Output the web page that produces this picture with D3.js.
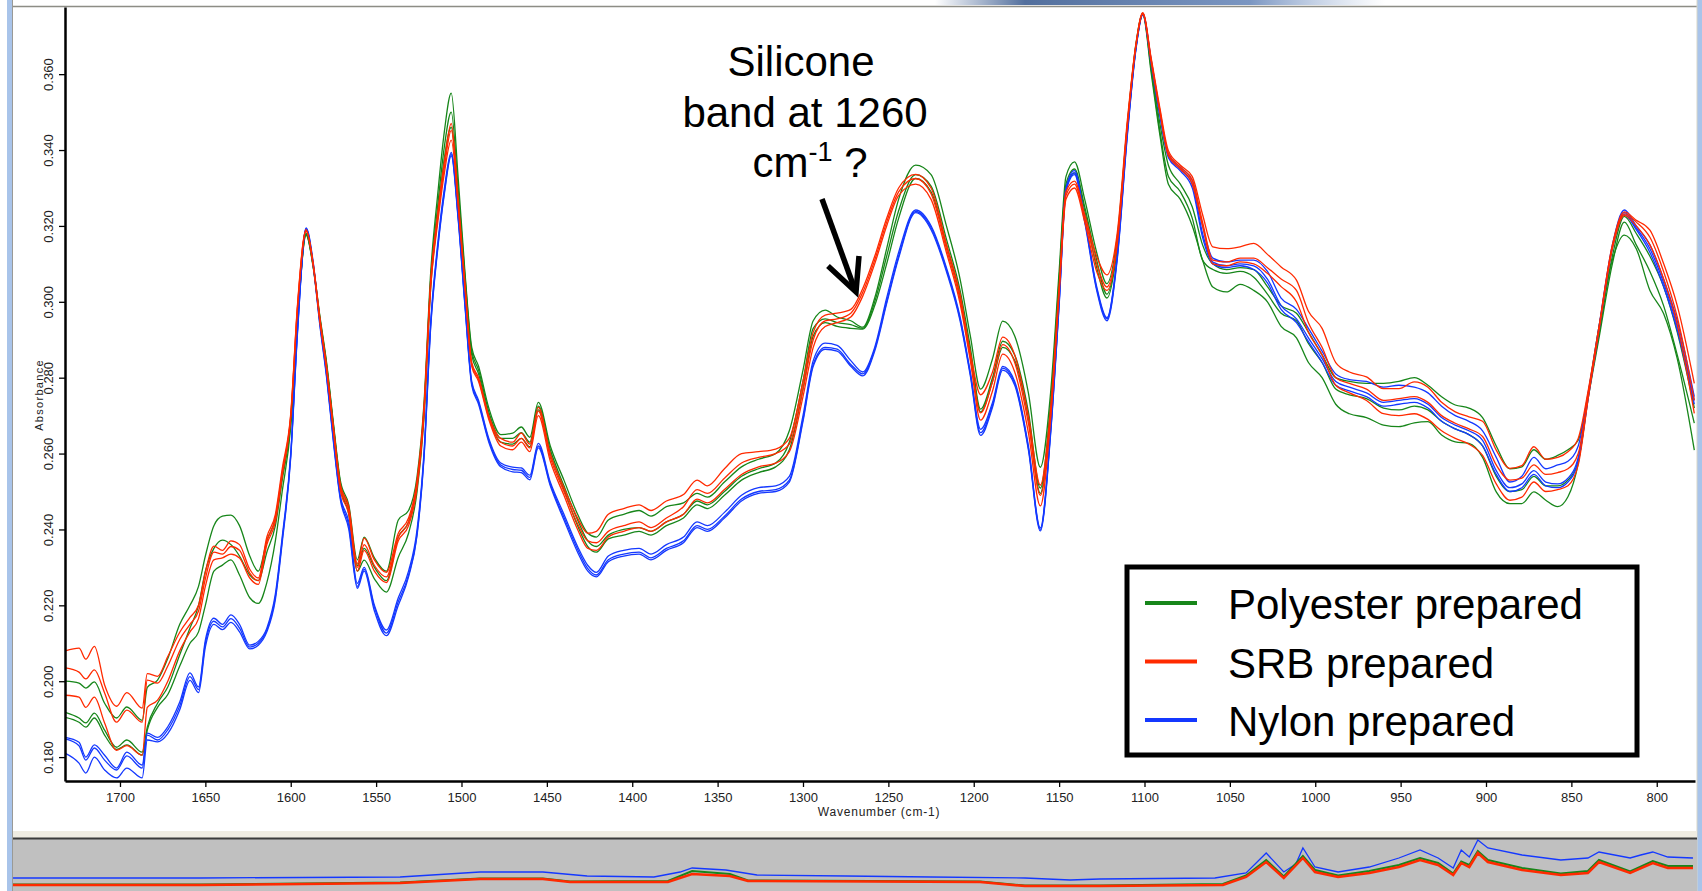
<!DOCTYPE html>
<html>
<head>
<meta charset="utf-8">
<script src="https://cdn.jsdelivr.net/npm/d3@7"></script>
<style>
  html, body { margin: 0; padding: 0; background: #fff; }
  svg { display: block; font-family: "Liberation Sans", Arial, sans-serif; }
</style>
</head>
<body>
<svg id="chart"></svg>
<script>
// wavenumber grid (cm-1), shared by every trace
const wavenumbers = [
  1732,1724,1720,1715,1709,1702,1696,1687,1684,1678,
  1672,1665,1659,1654,1650,1645,1640,1635,1630,1624,
  1619,1614,1609,1605,1600,1596,1591,1587,1583,1579,
  1575,1571,1566,1561,1557,1551,1544,1537,1531,1526,
  1522,1518,1514,1510,1506,1502,1498,1494,1490,1484,
  1477,1470,1465,1460,1455,1448,1440,1432,1426,1421,
  1414,1405,1396,1389,1380,1370,1362,1356,1346,1336,
  1326,1316,1308,1300,1294,1287,1280,1272,1265,1258,
  1251,1244,1234,1225,1216,1208,1202,1196,1189,1183,
  1176,1168,1161,1155,1150,1146,1141,1135,1128,1122,
  1116,1110,1105,1101,1096,1091,1086,1079,1072,1066,
  1060,1052,1044,1036,1028,1020,1011,1004,996,988,
  980,970,960,951,942,934,926,918,910,902,
  894,886,879,872,865,858,852,846,840,834,
  826,819,812,804,796,788,778
];

const polyester1 = [
  .2000,.1995,.1982,.1998,.1942,.1903,.1932,.1897,.1984,.2003,
  .2060,.2150,.2200,.2250,.2330,.2410,.2435,.2438,.2410,.2330,
  .2290,.2370,.2430,.2540,.2690,.2960,.3180,.3100,.2965,.2840,
  .2680,.2530,.2465,.2320,.2380,.2325,.2290,.2425,.2450,.2540,
  .2730,.3080,.3280,.3450,.3550,.3330,.3080,.2880,.2830,.2720,
  .2650,.2654,.2670,.2643,.2735,.2620,.2530,.2440,.2390,.2380,
  .2425,.2440,.2450,.2435,.2460,.2470,.2495,.2485,.2525,.2565,
  .2585,.2600,.2660,.2820,.2950,.2978,.2960,.2950,.2933,.3010,
  .3140,.3270,.3360,.3335,.3200,.3060,.2910,.2770,.2850,.2949,
  .2910,.2760,.2564,.2760,.3080,.3330,.3369,.3270,.3130,.3048,
  .3170,.3470,.3680,.3760,.3620,.3470,.3360,.3310,.3250,.3150,
  .3100,.3085,.3090,.3085,.3040,.2990,.2970,.2920,.2860,.2800,
  .2790,.2785,.2785,.2790,.2800,.2780,.2750,.2728,.2720,.2695,
  .2620,.2560,.2565,.2610,.2585,.2595,.2610,.2635,.2760,.2910,
  .3120,.3225,.3180,.3120,.3040,.2920,.2720
];
const polyester2 = [
  .1918,.1903,.1890,.1916,.1871,.1826,.1845,.1813,.1879,.1942,
  .1985,.2070,.2140,.2200,.2290,.2350,.2372,.2360,.2330,.2280,
  .2265,.2340,.2410,.2530,.2680,.2955,.3178,.3098,.2960,.2835,
  .2675,.2525,.2455,.2305,.2350,.2300,.2265,.2380,.2420,.2520,
  .2710,.3060,.3250,.3410,.3500,.3300,.3070,.2870,.2820,.2710,
  .2640,.2640,.2655,.2630,.2725,.2610,.2515,.2425,.2370,.2355,
  .2385,.2400,.2405,.2395,.2420,.2440,.2475,.2465,.2500,.2540,
  .2560,.2575,.2630,.2790,.2930,.2955,.2945,.2940,.2930,.3000,
  .3120,.3240,.3335,.3305,.3165,.3030,.2880,.2717,.2800,.2896,
  .2860,.2710,.2509,.2730,.3060,.3310,.3350,.3250,.3110,.3020,
  .3150,.3460,.3675,.3758,.3610,.3450,.3330,.3290,.3220,.3110,
  .3085,.3075,.3080,.3065,.3020,.2970,.2950,.2890,.2840,.2770,
  .2755,.2745,.2720,.2715,.2725,.2715,.2685,.2665,.2650,.2620,
  .2540,.2500,.2505,.2540,.2515,.2515,.2530,.2580,.2750,.2900,
  .3100,.3210,.3150,.3080,.2990,.2860,.2680
];
const polyester3 = [
  .1905,.1892,.1879,.1903,.1858,.1820,.1832,.1805,.1871,.1931,
  .1965,.2040,.2100,.2130,.2200,.2290,.2306,.2320,.2280,.2220,
  .2205,.2260,.2370,.2500,.2670,.2950,.3175,.3095,.2955,.2830,
  .2670,.2515,.2440,.2290,.2319,.2270,.2235,.2327,.2390,.2500,
  .2690,.3040,.3220,.3380,.3460,.3280,.3060,.2860,.2810,.2700,
  .2630,.2625,.2640,.2618,.2715,.2600,.2505,.2410,.2355,.2340,
  .2375,.2385,.2395,.2385,.2410,.2430,.2465,.2455,.2490,.2530,
  .2550,.2565,.2610,.2770,.2910,.2945,.2935,.2930,.2928,.2990,
  .3100,.3220,.3325,.3290,.3150,.3015,.2865,.2710,.2790,.2880,
  .2845,.2695,.2495,.2720,.3050,.3300,.3340,.3240,.3090,.3010,
  .3140,.3455,.3670,.3756,.3600,.3440,.3310,.3270,.3200,.3110,
  .3039,.3026,.3046,.3030,.3000,.2935,.2905,.2840,.2800,.2730,
  .2705,.2695,.2675,.2671,.2681,.2684,.2649,.2631,.2627,.2590,
  .2499,.2468,.2468,.2499,.2477,.2460,.2486,.2574,.2760,.2930,
  .3110,.3176,.3140,.3030,.2969,.2850,.2609
];

const srb1 = [
  .2080,.2087,.2058,.2092,.1990,.1934,.1970,.1929,.2020,.2013,
  .2065,.2129,.2168,.2200,.2287,.2356,.2345,.2370,.2360,.2295,
  .2272,.2380,.2440,.2560,.2705,.2995,.3190,.3105,.2960,.2830,
  .2670,.2520,.2460,.2310,.2377,.2320,.2287,.2390,.2430,.2530,
  .2720,.3060,.3230,.3370,.3470,.3276,.3050,.2840,.2800,.2700,
  .2640,.2630,.2654,.2625,.2722,.2600,.2510,.2430,.2390,.2395,
  .2440,.2455,.2465,.2450,.2475,.2492,.2530,.2515,.2560,.2600,
  .2605,.2612,.2640,.2790,.2920,.2965,.2970,.2980,.3035,.3120,
  .3220,.3300,.3336,.3300,.3152,.3020,.2867,.2755,.2815,.2907,
  .2860,.2700,.2517,.2720,.3040,.3290,.3318,.3230,.3120,.3071,
  .3180,.3480,.3680,.3762,.3640,.3511,.3398,.3360,.3330,.3230,
  .3145,.3140,.3145,.3154,.3125,.3092,.3057,.2975,.2930,.2840,
  .2815,.2802,.2771,.2771,.2789,.2775,.2735,.2710,.2697,.2685,
  .2609,.2561,.2568,.2618,.2585,.2590,.2605,.2640,.2770,.2930,
  .3150,.3237,.3215,.3189,.3101,.2990,.2785
];
const srb2 = [
  .2035,.2024,.2006,.2030,.1969,.1892,.1924,.1892,.2003,.1995,
  .2040,.2110,.2150,.2185,.2270,.2340,.2335,.2355,.2345,.2285,
  .2265,.2370,.2430,.2550,.2700,.2990,.3188,.3103,.2955,.2825,
  .2665,.2515,.2450,.2300,.2360,.2305,.2275,.2380,.2420,.2520,
  .2710,.3050,.3220,.3355,.3452,.3265,.3045,.2835,.2795,.2695,
  .2630,.2620,.2640,.2615,.2712,.2590,.2500,.2415,.2370,.2365,
  .2395,.2410,.2420,.2405,.2430,.2460,.2505,.2495,.2535,.2575,
  .2590,.2600,.2625,.2770,.2900,.2950,.2955,.2970,.3025,.3110,
  .3210,.3290,.3325,.3285,.3140,.3005,.2855,.2707,.2790,.2887,
  .2840,.2680,.2490,.2700,.3030,.3280,.3310,.3220,.3100,.3039,
  .3160,.3470,.3677,.3760,.3635,.3505,.3390,.3355,.3320,.3210,
  .3110,.3105,.3115,.3115,.3090,.3060,.3030,.2945,.2880,.2800,
  .2785,.2770,.2740,.2745,.2750,.2735,.2700,.2680,.2665,.2645,
  .2570,.2530,.2535,.2570,.2545,.2550,.2560,.2600,.2760,.2925,
  .3145,.3232,.3210,.3170,.3080,.2960,.2740
];
const srb3 = [
  .1963,.1958,.1931,.1958,.1890,.1818,.1830,.1805,.1931,.1950,
  .2000,.2080,.2130,.2165,.2250,.2320,.2325,.2335,.2325,.2272,
  .2255,.2360,.2420,.2540,.2695,.2985,.3186,.3100,.2950,.2820,
  .2660,.2505,.2440,.2290,.2345,.2290,.2260,.2370,.2410,.2510,
  .2700,.3040,.3205,.3340,.3426,.3255,.3040,.2830,.2790,.2690,
  .2620,.2610,.2630,.2605,.2700,.2580,.2490,.2400,.2350,.2345,
  .2380,.2395,.2405,.2395,.2420,.2440,.2480,.2470,.2505,.2545,
  .2565,.2575,.2605,.2750,.2880,.2935,.2945,.2960,.3015,.3100,
  .3200,.3280,.3310,.3270,.3130,.2995,.2845,.2688,.2765,.2862,
  .2815,.2655,.2462,.2690,.3020,.3270,.3300,.3210,.3080,.3030,
  .3150,.3465,.3675,.3758,.3630,.3500,.3385,.3350,.3310,.3200,
  .3100,.3095,.3105,.3100,.3075,.3040,.3000,.2920,.2860,.2780,
  .2760,.2740,.2705,.2700,.2705,.2690,.2660,.2640,.2625,.2595,
  .2520,.2477,.2485,.2525,.2500,.2505,.2515,.2570,.2750,.2920,
  .3140,.3228,.3200,.3150,.3060,.2940,.2706
];

const nylon1 = [
  .1852,.1839,.1800,.1832,.1805,.1771,.1813,.1779,.1863,.1852,
  .1880,.1945,.2022,.1985,.2108,.2166,.2150,.2175,.2150,.2095,
  .2105,.2140,.2230,.2380,.2600,.2930,.3195,.3110,.2950,.2810,
  .2640,.2490,.2420,.2258,.2300,.2200,.2135,.2220,.2290,.2400,
  .2600,.2950,.3150,.3300,.3394,.3230,.3000,.2790,.2740,.2640,
  .2575,.2564,.2562,.2543,.2627,.2525,.2440,.2355,.2305,.2287,
  .2330,.2345,.2350,.2335,.2360,.2380,.2420,.2410,.2445,.2490,
  .2510,.2515,.2540,.2700,.2845,.2891,.2885,.2845,.2815,.2880,
  .3010,.3130,.3242,.3200,.3090,.2960,.2815,.2664,.2735,.2830,
  .2790,.2620,.2404,.2660,.3000,.3300,.3346,.3220,.3040,.2958,
  .3120,.3450,.3670,.3760,.3635,.3500,.3390,.3355,.3320,.3200,
  .3115,.3105,.3110,.3110,.3080,.3010,.2980,.2930,.2870,.2810,
  .2795,.2790,.2775,.2780,.2775,.2760,.2725,.2700,.2685,.2660,
  .2590,.2525,.2540,.2590,.2560,.2570,.2580,.2620,.2765,.2930,
  .3150,.3242,.3200,.3150,.3060,.2950,.2750
];
const nylon2 = [
  .1848,.1830,.1792,.1824,.1792,.1766,.1803,.1771,.1858,.1845,
  .1872,.1935,.2012,.1978,.2100,.2158,.2143,.2165,.2140,.2090,
  .2100,.2135,.2222,.2372,.2595,.2925,.3193,.3105,.2945,.2805,
  .2635,.2485,.2410,.2250,.2295,.2195,.2127,.2210,.2280,.2390,
  .2590,.2940,.3140,.3290,.3390,.3225,.2995,.2785,.2735,.2635,
  .2570,.2558,.2556,.2537,.2620,.2520,.2432,.2348,.2297,.2280,
  .2320,.2335,.2340,.2325,.2350,.2370,.2410,.2400,.2435,.2480,
  .2500,.2505,.2530,.2690,.2835,.2880,.2875,.2835,.2810,.2875,
  .3000,.3120,.3238,.3195,.3085,.2955,.2810,.2655,.2728,.2825,
  .2785,.2615,.2400,.2655,.2995,.3295,.3340,.3215,.3035,.2955,
  .3115,.3445,.3668,.3758,.3630,.3495,.3385,.3350,.3310,.3180,
  .3105,.3095,.3100,.3095,.3060,.2990,.2955,.2905,.2850,.2790,
  .2775,.2760,.2735,.2740,.2745,.2730,.2695,.2675,.2660,.2635,
  .2555,.2510,.2520,.2555,.2525,.2520,.2535,.2590,.2755,.2925,
  .3145,.3235,.3195,.3140,.3050,.2935,.2740
];
const nylon3 = [
  .1810,.1784,.1758,.1800,.1766,.1745,.1771,.1745,.1845,.1840,
  .1862,.1925,.2002,.1970,.2090,.2150,.2136,.2155,.2130,.2085,
  .2095,.2130,.2215,.2365,.2590,.2920,.3192,.3100,.2940,.2800,
  .2630,.2480,.2400,.2245,.2290,.2185,.2120,.2200,.2275,.2385,
  .2585,.2935,.3135,.3285,.3385,.3220,.2990,.2780,.2730,.2630,
  .2565,.2552,.2550,.2531,.2615,.2515,.2425,.2340,.2290,.2275,
  .2315,.2330,.2335,.2320,.2345,.2365,.2405,.2395,.2430,.2475,
  .2495,.2500,.2525,.2685,.2830,.2875,.2870,.2830,.2805,.2870,
  .2995,.3115,.3235,.3190,.3080,.2950,.2805,.2648,.2722,.2820,
  .2780,.2610,.2396,.2650,.2990,.3290,.3335,.3210,.3030,.2950,
  .3110,.3440,.3665,.3756,.3625,.3490,.3380,.3345,.3300,.3170,
  .3100,.3090,.3095,.3085,.3050,.2980,.2945,.2895,.2840,.2780,
  .2765,.2750,.2725,.2730,.2735,.2720,.2685,.2665,.2650,.2620,
  .2545,.2500,.2510,.2545,.2515,.2510,.2525,.2580,.2750,.2920,
  .3140,.3230,.3190,.3130,.3040,.2925,.2730
];

// axis ticks
const yTicks = [0.18, 0.20, 0.22, 0.24, 0.26, 0.28, 0.30, 0.32, 0.34, 0.36];
const xTicks = [1700, 1650, 1600, 1550, 1500, 1450, 1400, 1350, 1300, 1250, 1200, 1150, 1100, 1050, 1000, 950, 900, 850, 800];

// overview strip at the bottom (whole spectrum, relative units)
const overviewRedW = [4000,3628,3230,3071,2946,2892,2697,2649,2574,2538,2076,1987,1838,1593,1547,1507,1472,1434,1410,1364,1302,1243,1201,1165,1135,1119,1103,1086,1066,998,921,867,845,783,738,708,658];
const overviewRed = [.08,.08,.12,.20,.20,.14,.14,.30,.26,.16,.14,.06,.06,.08,.24,.54,.22,.62,.34,.24,.32,.44,.58,.48,.28,.52,.44,.72,.54,.38,.28,.32,.54,.32,.52,.42,.42];
const overviewGreen = [.09,.09,.13,.21,.21,.15,.16,.36,.30,.17,.15,.07,.07,.10,.27,.58,.25,.66,.38,.27,.36,.48,.62,.52,.31,.55,.48,.76,.58,.42,.31,.36,.58,.35,.56,.46,.46];
const overviewBlueW = [4000,3628,3230,3071,2946,2858,2725,2673,2649,2582,2520,2343,2174,1987,1897,1838,1609,1547,1507,1472,1448,1434,1410,1364,1302,1243,1201,1165,1135,1119,1103,1086,1066,998,921,867,845,783,762,738,708,658];
const overviewBlue = [.22,.22,.24,.34,.34,.26,.24,.34,.42,.38,.28,.26,.24,.22,.18,.20,.22,.32,.72,.34,.50,.82,.44,.34,.44,.62,.78,.62,.42,.78,.64,.98,.82,.68,.58,.62,.74,.62,.68,.74,.64,.62];

const GREEN = '#17861a', RED = '#ff2a00', BLUE = '#1438ff';

const groups = [
  { name: 'Polyester prepared', color: GREEN, series: [polyester1, polyester2, polyester3] },
  { name: 'Nylon prepared', color: BLUE, series: [nylon1, nylon2, nylon3] },
  { name: 'SRB prepared', color: RED, series: [srb1, srb2, srb3] }
];
const legendOrder = ['Polyester prepared', 'SRB prepared', 'Nylon prepared'];

const W = 1702, H = 891;
const svg = d3.select('#chart').attr('width', W).attr('height', H);

// window frame
svg.append('rect').attr('x', 0).attr('y', 0).attr('width', W).attr('height', H).attr('fill', '#fff');
const grad = svg.append('defs').append('linearGradient').attr('id', 'topBlob');
grad.append('stop').attr('offset', '0%').attr('stop-color', '#3f5f92').attr('stop-opacity', 0);
grad.append('stop').attr('offset', '20%').attr('stop-color', '#3f5f92').attr('stop-opacity', 0.9);
grad.append('stop').attr('offset', '70%').attr('stop-color', '#5a7cb2').attr('stop-opacity', 0.8);
grad.append('stop').attr('offset', '100%').attr('stop-color', '#8aa6d0').attr('stop-opacity', 0);
svg.append('rect').attr('x', 935).attr('y', 0).attr('width', 450).attr('height', 5).attr('fill', 'url(#topBlob)');
svg.append('line').attr('x1', 13).attr('x2', 1697).attr('y1', 6.5).attr('y2', 6.5).attr('stroke', '#8d8d85').attr('stroke-width', 1.5);
svg.append('rect').attr('x', 7).attr('y', 0).attr('width', 5).attr('height', H).attr('fill', '#a9c4ea');
svg.append('line').attr('x1', 12.5).attr('x2', 12.5).attr('y1', 0).attr('y2', H).attr('stroke', '#9a9a96').attr('stroke-width', 1);
svg.append('rect').attr('x', 1697).attr('y', 0).attr('width', 5).attr('height', H).attr('fill', '#a9c4ea');
svg.append('line').attr('x1', 1697).attr('x2', 1697).attr('y1', 0).attr('y2', H).attr('stroke', '#d8d6c8').attr('stroke-width', 1);

// main plot
const x = d3.scaleLinear().domain([1732.2, 777.6]).range([65, 1695]);
const y = d3.scaleLinear().domain([0.1737, 0.3777]).range([781, 7]);

svg.append('clipPath').attr('id', 'plotClip')
  .append('rect').attr('x', 65).attr('y', 7).attr('width', 1630).attr('height', 774);

const line = d3.line()
  .x((d, i) => x(wavenumbers[i]))
  .y(d => y(d))
  .curve(d3.curveMonotoneX);

const plot = svg.append('g').attr('clip-path', 'url(#plotClip)');
groups.forEach(g => {
  plot.selectAll(null)
    .data(g.series)
    .join('path')
    .attr('d', line)
    .attr('fill', 'none')
    .attr('stroke', g.color)
    .attr('stroke-width', 1.3)
    .attr('stroke-linejoin', 'round');
});

// axes
const yAxis = d3.axisLeft(y).tickValues(yTicks).tickSize(6).tickSizeOuter(0).tickFormat(d3.format('.3f'));
const xAxis = d3.axisBottom(x).tickValues(xTicks).tickSize(6).tickSizeOuter(0).tickPadding(6).tickFormat(d3.format('d'));

const yAxisG = svg.append('g').attr('transform', 'translate(65,0)').call(yAxis);
yAxisG.selectAll('text')
  .attr('transform', 'rotate(-90)')
  .attr('x', 0).attr('y', -12).attr('dy', '0')
  .attr('text-anchor', 'middle')
  .attr('font-size', 13).attr('fill', '#222');

const xAxisG = svg.append('g').attr('transform', 'translate(0,781)').call(xAxis);
xAxisG.selectAll('text').attr('font-size', 13).attr('fill', '#222');

[yAxisG, xAxisG].forEach(a => {
  a.select('.domain').attr('stroke', '#000').attr('stroke-width', 2.5);
  a.selectAll('.tick line').attr('stroke', '#000').attr('stroke-width', 1.3);
  a.attr('font-family', '"Liberation Sans", Arial, sans-serif');
});

svg.append('text')
  .attr('transform', 'translate(43,395) rotate(-90)')
  .attr('text-anchor', 'middle')
  .attr('font-size', 11).attr('letter-spacing', 1.3).attr('fill', '#222')
  .text('Absorbance');

svg.append('text')
  .attr('x', 879).attr('y', 816)
  .attr('text-anchor', 'middle')
  .attr('font-size', 12).attr('letter-spacing', 0.8).attr('fill', '#222')
  .text('Wavenumber (cm-1)');

// annotation
const note = svg.append('g').attr('font-size', 42).attr('fill', '#000').attr('text-anchor', 'middle');
note.append('text').attr('x', 801).attr('y', 76).text('Silicone');
note.append('text').attr('x', 805).attr('y', 127).text('band at 1260');
const cm = note.append('text').attr('x', 810).attr('y', 177);
cm.append('tspan').text('cm');
cm.append('tspan').attr('font-size', 27).attr('dy', -16).text('-1');
cm.append('tspan').attr('dy', 16).text(' ?');

svg.append('line')
  .attr('x1', 822).attr('y1', 199).attr('x2', 855).attr('y2', 290)
  .attr('stroke', '#000').attr('stroke-width', 5.5);
svg.append('polyline')
  .attr('points', '828,266 856,292 859,256')
  .attr('fill', 'none').attr('stroke', '#000').attr('stroke-width', 5.5)
  .attr('stroke-linejoin', 'miter');

// legend
const legend = svg.append('g');
legend.append('rect')
  .attr('x', 1127).attr('y', 567).attr('width', 510).attr('height', 188)
  .attr('fill', '#fff').attr('stroke', '#000').attr('stroke-width', 5);
legendOrder.forEach((name, i) => {
  const g = groups.find(d => d.name === name);
  const by = 619 + i * 58.5;
  legend.append('line')
    .attr('x1', 1145).attr('x2', 1197).attr('y1', by - 16).attr('y2', by - 16)
    .attr('stroke', g.color).attr('stroke-width', 4);
  legend.append('text')
    .attr('x', 1228).attr('y', by)
    .attr('font-size', 42).attr('fill', '#000')
    .text(name);
});

// overview strip
svg.append('rect').attr('x', 13).attr('y', 831).attr('width', 1684).attr('height', 7).attr('fill', '#efece2');
svg.append('rect').attr('x', 13).attr('y', 839).attr('width', 1684).attr('height', 52).attr('fill', '#c0c0c0');
svg.append('line').attr('x1', 13).attr('x2', 1697).attr('y1', 838.5).attr('y2', 838.5).attr('stroke', '#3a3a3a').attr('stroke-width', 2);

const ox = d3.scaleLinear().domain([4000, 650]).range([13, 1697]);
const oy = d3.scaleLinear().domain([0, 1]).range([889, 839]);
const oLine = (ws) => d3.line().x((d, i) => ox(ws[i])).y(d => oy(d));

svg.append('path').attr('d', oLine(overviewBlueW)(overviewBlue))
  .attr('fill', 'none').attr('stroke', BLUE).attr('stroke-width', 1.3);
svg.append('path').attr('d', oLine(overviewRedW)(overviewGreen))
  .attr('fill', 'none').attr('stroke', GREEN).attr('stroke-width', 2);
svg.append('path').attr('d', oLine(overviewRedW)(overviewRed))
  .attr('fill', 'none').attr('stroke', RED).attr('stroke-width', 2.5);
</script>
</body>
</html>
